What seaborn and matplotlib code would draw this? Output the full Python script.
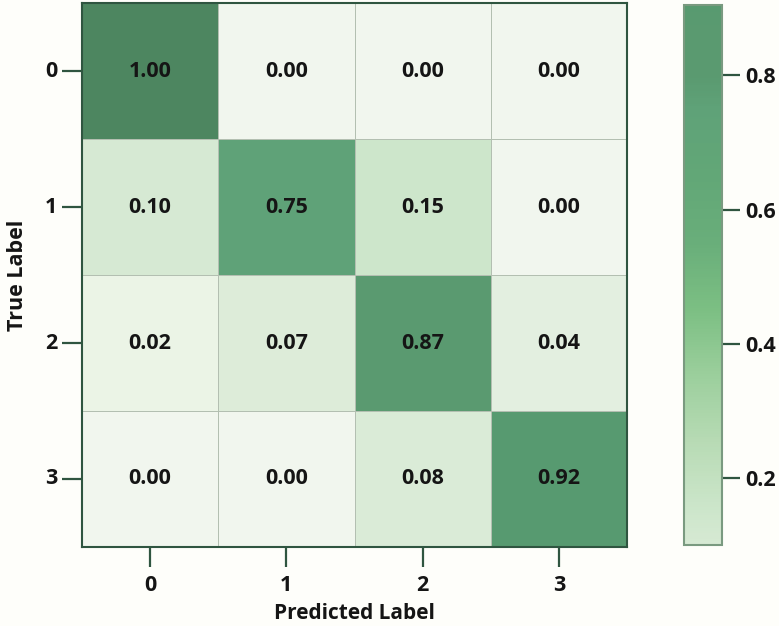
import matplotlib
matplotlib.use("Agg")
import matplotlib.pyplot as plt
import seaborn as sns
import numpy as np
from matplotlib.colors import LinearSegmentedColormap

# ---- data ----
class_labels = ["0", "1", "2", "3"]
row_0 = [1.00, 0.00, 0.00, 0.00]
row_1 = [0.10, 0.75, 0.15, 0.00]
row_2 = [0.02, 0.07, 0.87, 0.04]
row_3 = [0.00, 0.00, 0.08, 0.92]
cbar_ticks = [0.2, 0.4, 0.6, 0.8]

matrix = np.array([row_0, row_1, row_2, row_3])

sns.set_theme(style="white")
plt.rcParams['font.family'] = ['Open Sans', 'DejaVu Sans']

cmap = LinearSegmentedColormap.from_list(
    "cm_green",
    [(0.00, "#f1f6ee"), (0.02, "#ebf4e6"), (0.04, "#e3efe0"), (0.07, "#dcecd8"),
     (0.10, "#d6e9d3"), (0.15, "#cde6cb"), (0.25, "#b8dbb5"), (0.35, "#9ccf9d"),
     (0.45, "#7cbf83"), (0.55, "#69ae7a"), (0.65, "#62a777"), (0.75, "#5fa278"),
     (0.80, "#5a9a70"), (0.87, "#5a9a70"), (0.92, "#579a70"), (1.00, "#4d8660")])

bg = "#fefefa"
fig = plt.figure(figsize=(7.79, 6.26), dpi=100, facecolor=bg)
ax = fig.add_axes([0.1053, 0.1262, 0.6996, 0.8690])
cax = fig.add_axes([0.878, 0.1294, 0.0488, 0.8626])

tick_col = "#2f5540"
sns.heatmap(matrix, ax=ax, cbar_ax=cax, cmap=cmap, vmin=0.0, vmax=1.0,
            annot=True, fmt=".2f",
            annot_kws={"fontsize": 15.5, "fontweight": "bold", "color": "#151515"},
            linewidths=0.5, linecolor="#b3bfb1",
            xticklabels=class_labels, yticklabels=class_labels,
            cbar_kws={"ticks": cbar_ticks})

for s in ax.spines.values():
    s.set_visible(True)
    s.set_color(tick_col)
    s.set_linewidth(1.5)

ax.tick_params(axis="both", which="both", length=14.5, width=1.6, color=tick_col,
               labelsize=15.5, bottom=True, left=True)
ax.tick_params(axis="x", pad=6)
ax.tick_params(axis="y", pad=3.5)
ax.set_xticklabels(class_labels, fontweight="bold", color="#151515")
ax.set_yticklabels(class_labels, rotation=0, fontweight="bold", color="#151515")
ax.set_xlabel("Predicted Label", fontsize=15, fontweight="bold", color="#151515", labelpad=5)
ax.set_ylabel("True Label", fontsize=15.5, fontweight="bold", color="#151515", labelpad=12)

cbar = ax.collections[0].colorbar
cbar.ax.set_ylim(0.1, 0.905)
cbar.set_ticks(cbar_ticks)
cbar.set_ticklabels(["0.2", "0.4", "0.6", "0.8"])
cbar.ax.tick_params(length=13, width=1.6, color=tick_col, labelsize=15.5, pad=3.5)
for lab in cbar.ax.get_yticklabels():
    lab.set_fontweight("bold")
    lab.set_color("#151515")
cbar.outline.set_edgecolor("#7a9a80")
cbar.outline.set_linewidth(1.5)

fig.savefig("out.png", dpi=100, facecolor=bg)
